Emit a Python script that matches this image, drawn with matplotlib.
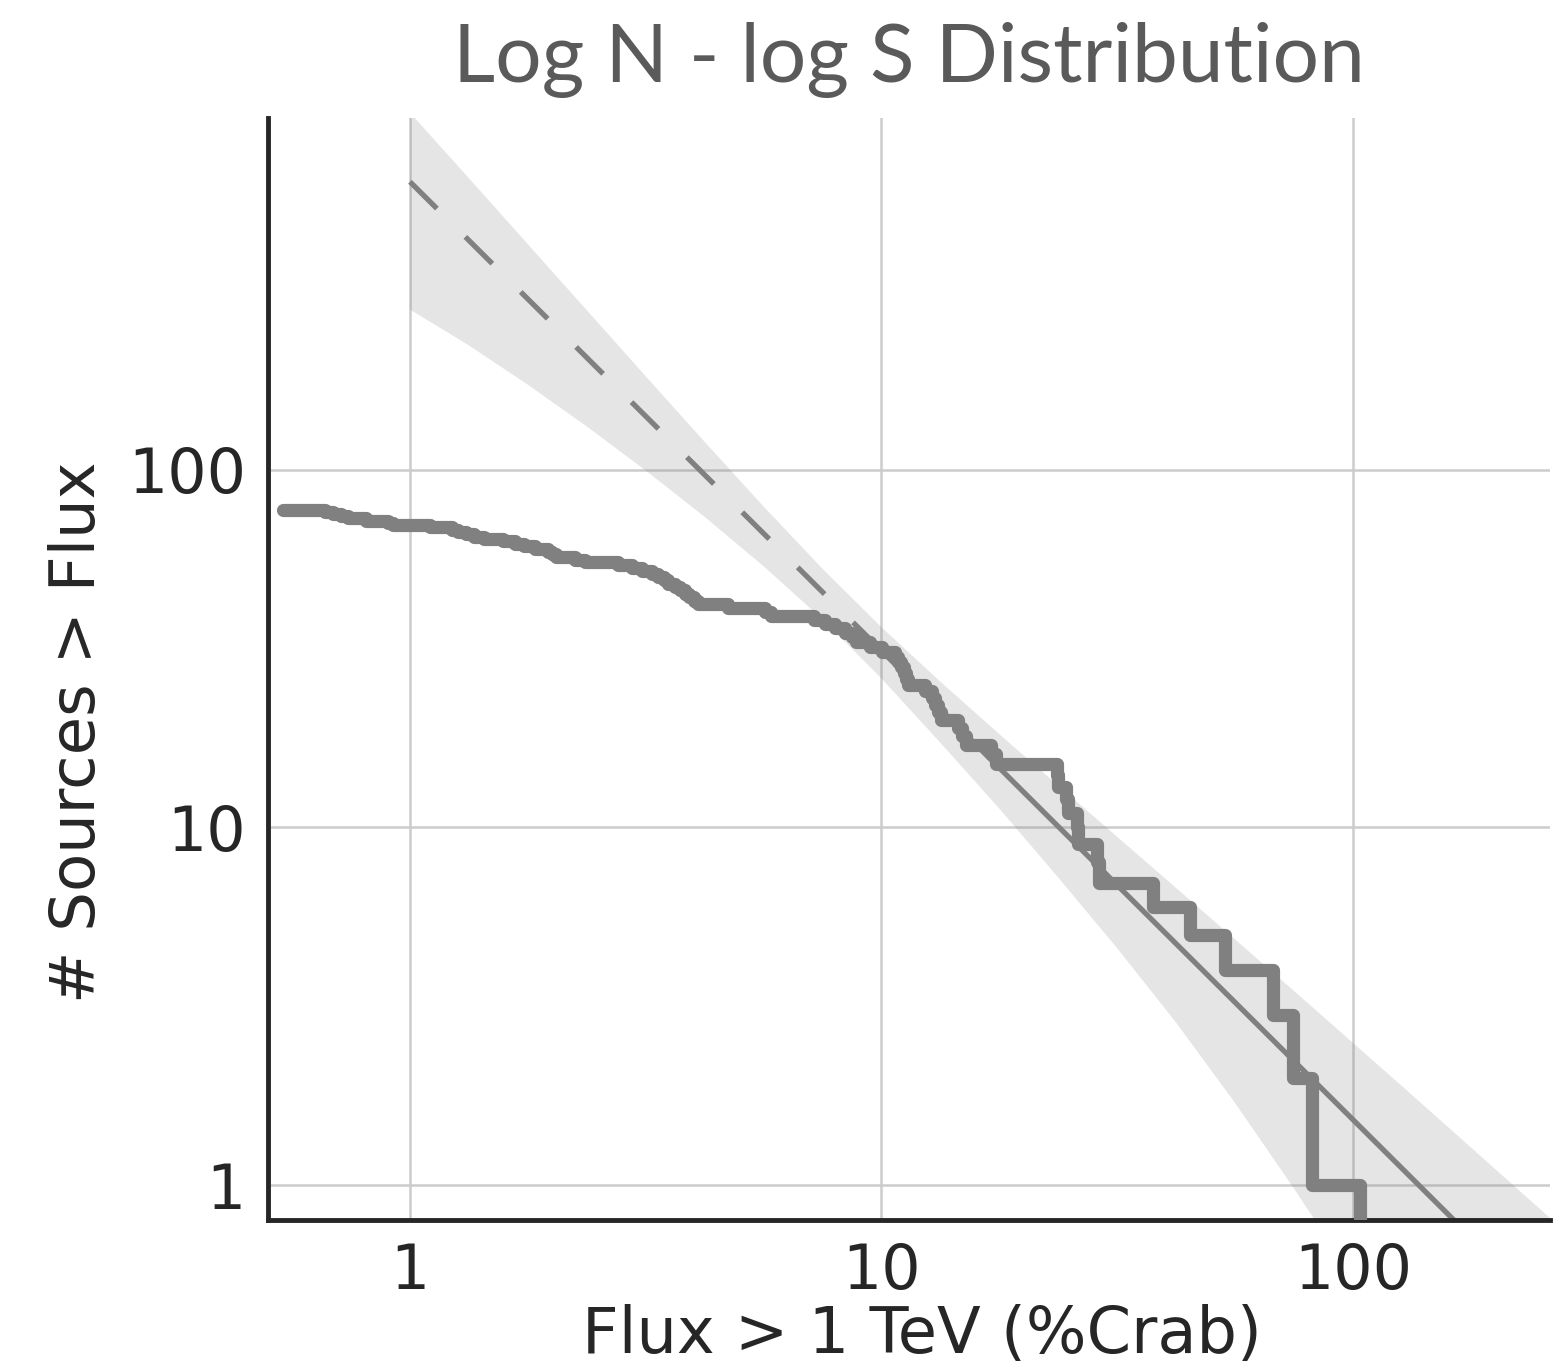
import numpy as np
import matplotlib
matplotlib.use("Agg")
import matplotlib.pyplot as plt

# source fluxes (% Crab), faintest first
source_flux = [0.538, 0.660, 0.687, 0.714, 0.739, 0.807, 0.898, 0.920, 1.103, 1.228,
               1.264, 1.315, 1.367, 1.435, 1.575, 1.670, 1.745, 1.841, 1.962, 2.001,
               2.040, 2.238, 2.350, 2.761, 2.957, 3.105, 3.261, 3.357, 3.457, 3.526,
               3.648, 3.738, 3.831, 3.907, 4.004, 4.083, 4.727, 5.661, 5.830, 7.194,
               7.591, 7.970, 8.369, 8.659, 8.830, 9.454, 10.03, 10.68, 10.84, 11.00,
               11.16, 11.27, 11.38, 12.37, 12.80, 12.99, 13.18, 13.37, 14.53, 14.82,
               15.11, 17.07, 17.49, 23.56, 23.68, 24.62, 24.86, 25.98, 26.11, 28.65,
               28.93, 37.65, 45.11, 53.53, 67.68, 74.61, 81.88, 103.5]

# power law fit: dashed below the fit threshold, solid above
fit_extrap_flux = [1, 10]
fit_extrap_n = [637, 31.2]
fit_flux = [10, 300]
fit_n = [31.2, 0.362]

# uncertainty band
band_flux = [1, 1.334, 1.778, 2.371, 3.162, 4.217, 5.623, 7.499, 10, 13.34,
             17.78, 23.71, 31.62, 42.17, 56.23, 74.99, 100, 133.4, 177.8, 263]
band_hi = [994, 651.6, 426.5, 279.0, 182.4, 119.6, 78.9, 52.83, 36.28, 25.54,
           18.24, 13.10, 9.42, 6.778, 4.87, 3.495, 2.503, 1.790, 1.278, 0.807]
band_lo = [280, 222.2, 172.7, 132.0, 99.4, 73.78, 53.7, 38.15, 26.10, 17.24,
           11.30, 7.25, 4.60, 2.85, 1.70, 0.98, 0.553, 0.3055, 0.159, 0.054]

# number of sources brighter than each flux
n_above = len(source_flux) - 1 - np.arange(len(source_flux))

dark = '#262626'
gray = '#808080'

fig = plt.figure(figsize=(15.53, 13.63), dpi=100)
ax = fig.add_axes([0.1726, 0.1049, 0.8255, 0.8085])

ax.fill_between(band_flux, band_lo, band_hi, color=gray, alpha=0.2, lw=0, zorder=1)
ax.plot(fit_extrap_flux, fit_extrap_n, color=gray, lw=3.8, ls=(0, (7.2, 7.6)), zorder=2)
ax.plot(fit_flux, fit_n, color=gray, lw=3.8, zorder=2)
ax.plot(source_flux, n_above, color=gray, lw=9.5, drawstyle='steps-post',
        solid_capstyle='round', solid_joinstyle='round', zorder=3)

ax.set_xscale('log')
ax.set_yscale('log')
ax.set_xlim(0.5, 262)
ax.set_ylim(0.8, 960)

ax.set_xticks([1, 10, 100])
ax.set_xticklabels(['1', '10', '100'])
ax.set_yticks([1, 10, 100])
ax.set_yticklabels(['1', '10', '100'])
ax.minorticks_off()
ax.tick_params(axis='x', length=0, pad=16, labelsize=44.5, labelcolor=dark)
ax.tick_params(axis='y', length=0, pad=16, labelsize=44.5, labelcolor=dark)

ax.grid(True, color='#cccccc', lw=1.8, zorder=0)
ax.set_axisbelow(True)
for side in ['top', 'right']:
    ax.spines[side].set_visible(False)
for side in ['left', 'bottom']:
    ax.spines[side].set_color(dark)
    ax.spines[side].set_linewidth(3.5)

ax.set_xlabel('Flux > 1 TeV (%Crab)', fontsize=46, color=dark)
ax.xaxis.set_label_coords(0.51, -0.076)
ax.set_ylabel('# Sources > Flux', fontsize=45, color=dark)
ax.yaxis.set_label_coords(-0.125, 0.443)
ax.set_title('Log N - log S Distribution', fontsize=59, color='#5a5a5a',
             family='Lato', pad=26)

fig.savefig('out.png', dpi=100)
